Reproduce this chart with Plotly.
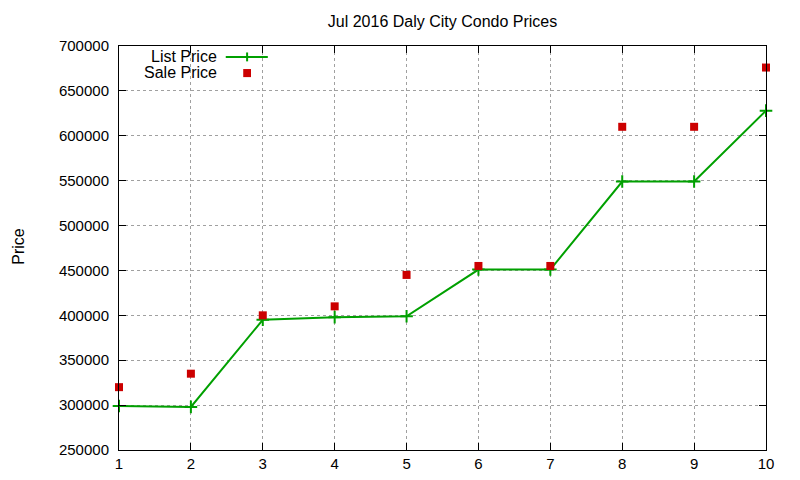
import plotly.graph_objects as go

# data
listings = [1, 2, 3, 4, 5, 6, 7, 8, 9, 10]
list_price = [299000, 298000, 395000, 398000, 399000, 451000, 451000, 549000, 549000, 628000]
sale_price = [320000, 335000, 400000, 410000, 445000, 455000, 455000, 610000, 610000, 676000]

y_ticks = [250000, 300000, 350000, 400000, 450000, 500000, 550000, 600000, 650000, 700000]

FONT = "Liberation Sans, Arial, sans-serif"
GREEN = '#00a000'
RED = '#cc0000'

fig = go.Figure()
fig.add_trace(go.Scatter(x=listings, y=list_price, name='List Price',
                         mode='lines+markers', cliponaxis=False,
                         line=dict(color=GREEN, width=2),
                         marker=dict(symbol='cross-thin', size=9,
                                     line=dict(color=GREEN, width=2))))
fig.add_trace(go.Scatter(x=listings, y=sale_price, name='Sale Price',
                         mode='markers', cliponaxis=False,
                         marker=dict(symbol='square', size=8, color=RED)))

axis = dict(showline=True, linecolor='black', linewidth=1, mirror='ticks',
            ticks='inside', ticklen=7, tickcolor='black',
            showgrid=True, gridcolor='#a0a0a0', griddash='dot', gridwidth=1,
            zeroline=False, tickfont=dict(family=FONT, size=15, color='black'))

fig.update_xaxes(range=[1, 10], tickvals=listings, **axis)
fig.update_yaxes(range=[250000, 700000], tickvals=y_ticks,
                 tickformat='d', ticklabelstandoff=6, **axis)

fig.update_layout(
    width=800, height=480,
    margin=dict(l=111, r=42, t=38, b=38),
    plot_bgcolor='white', paper_bgcolor='white',
    font=dict(family=FONT, size=15, color='black'),
    title=dict(text='Jul 2016 Daly City Condo Prices', x=0.5, xref='paper',
               xanchor='center', y=0.973, yanchor='middle', font=dict(size=16)),
    showlegend=False,
)

# gnuplot-style key: text right-aligned, sample to the right
fig.add_annotation(text='List Price', xref='paper', yref='paper',
                   x=0.155, y=0.975, xanchor='right', yanchor='middle',
                   showarrow=False, font=dict(size=16))
fig.add_annotation(text='Sale Price', xref='paper', yref='paper',
                   x=0.155, y=0.935, xanchor='right', yanchor='middle',
                   showarrow=False, font=dict(size=16))
fig.add_shape(type='line', xref='paper', yref='paper',
              x0=0.165, x1=0.230, y0=0.973, y1=0.973,
              line=dict(color=GREEN, width=2))
fig.add_shape(type='line', xref='paper', yref='paper',
              x0=0.198, x1=0.198, y0=0.962, y1=0.984,
              line=dict(color=GREEN, width=2))
fig.add_shape(type='rect', xref='paper', yref='paper',
              x0=0.192, x1=0.204, y0=0.923, y1=0.943,
              line=dict(width=0), fillcolor=RED)

fig.add_annotation(text='Price', textangle=-90, xref='paper', yref='paper',
                   x=-0.155, y=0.505, showarrow=False, xanchor='center',
                   yanchor='middle', font=dict(size=16))

fig.write_html("out.html")
